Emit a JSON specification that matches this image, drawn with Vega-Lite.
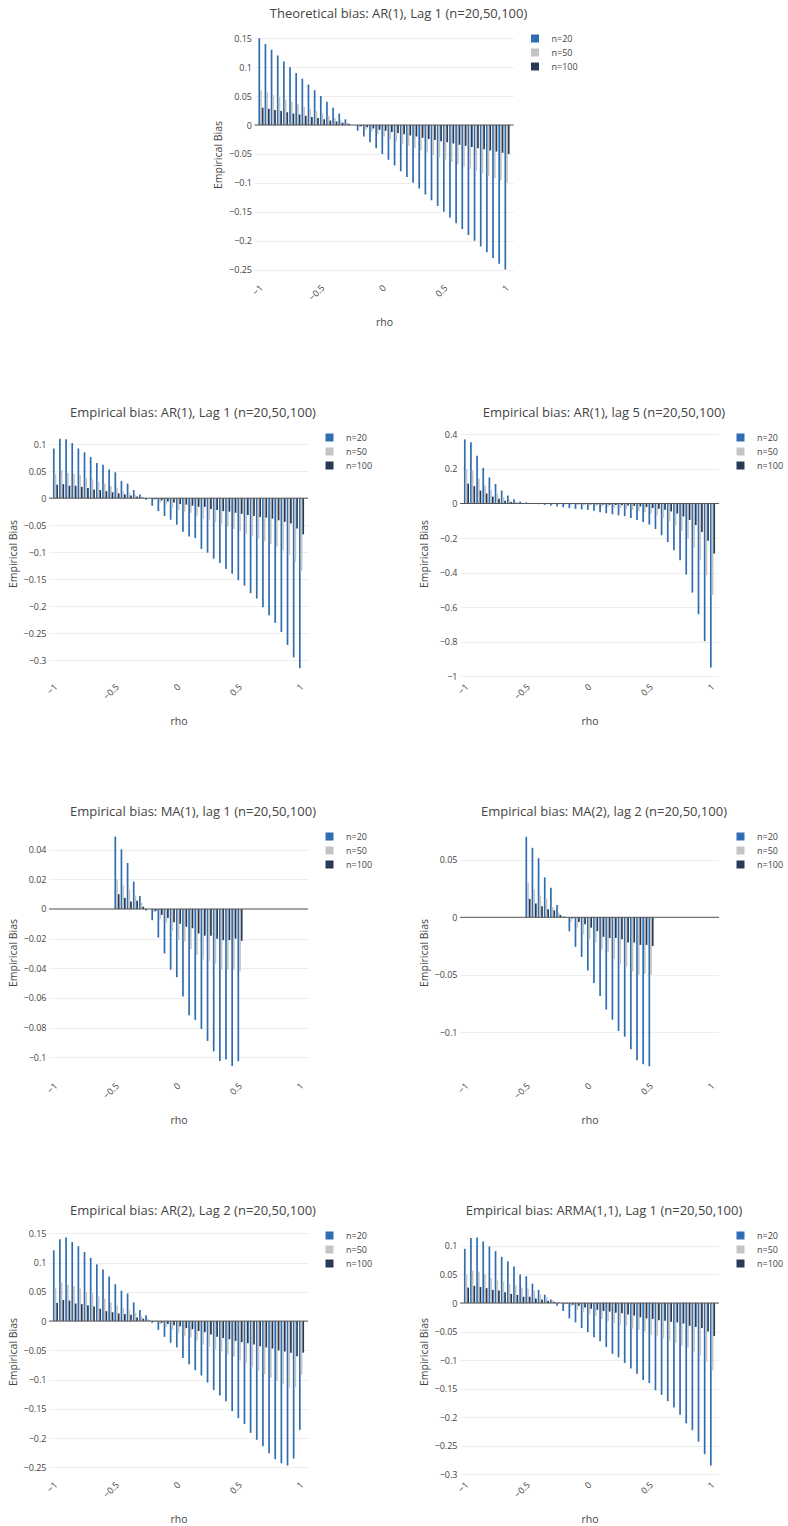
{
"$schema": "https://vega.github.io/schema/vega-lite/v6.json",
"padding": {"left": 8, "top": 8, "right": 0, "bottom": 5},
"background": "white",
"config": {
  "font": "Open Sans",
  "numberFormat": "~g",
  "view": {"stroke": null},
  "title": {"fontSize": 13, "fontWeight": "normal", "color": "#444", "font": "Open Sans", "anchor": "middle", "frame": "bounds", "offset": 8},
  "axis": {"labelFont": "Open Sans", "labelFontSize": 9, "labelColor": "#444", "titleFont": "Open Sans", "titleFontSize": 10.5, "titleFontWeight": "normal", "titleColor": "#444", "ticks": false, "domain": false, "gridColor": "#eee", "gridWidth": 1, "labelOverlap": false, "labelFlush": false},
  "axisX": {"grid": false, "labelAngle": -45, "labelAlign": "right", "labelBaseline": "middle", "labelPadding": 6, "minExtent": 25, "maxExtent": 25, "titlePadding": 12, "tickCount": 20},
  "axisY": {"labelPadding": 3, "minExtent": 27, "maxExtent": 27, "titlePadding": 4, "tickCount": 20},
  "legend": {"orient": "right", "offset": 12, "symbolType": "square", "symbolSize": 64, "symbolStrokeWidth": 0, "labelFont": "Open Sans", "labelFontSize": 9, "labelColor": "#444", "labelOffset": 12, "rowPadding": 4, "padding": 5}
},
"datasets": {
"p1": [
{"rho":-1,"n":"n=20","bias":0.15},{"rho":-0.95,"n":"n=20","bias":0.14},{"rho":-0.9,"n":"n=20","bias":0.13},{"rho":-0.85,"n":"n=20","bias":0.12},{"rho":-0.8,"n":"n=20","bias":0.11},{"rho":-0.75,"n":"n=20","bias":0.1},{"rho":-0.7,"n":"n=20","bias":0.09},{"rho":-0.65,"n":"n=20","bias":0.08},{"rho":-0.6,"n":"n=20","bias":0.07},{"rho":-0.55,"n":"n=20","bias":0.06},{"rho":-0.5,"n":"n=20","bias":0.05},{"rho":-0.45,"n":"n=20","bias":0.04},{"rho":-0.4,"n":"n=20","bias":0.03},{"rho":-0.35,"n":"n=20","bias":0.02},{"rho":-0.3,"n":"n=20","bias":0.01},{"rho":-0.25,"n":"n=20","bias":0},{"rho":-0.2,"n":"n=20","bias":-0.01},{"rho":-0.15,"n":"n=20","bias":-0.02},{"rho":-0.1,"n":"n=20","bias":-0.03},{"rho":-0.05,"n":"n=20","bias":-0.04},{"rho":0,"n":"n=20","bias":-0.05},{"rho":0.05,"n":"n=20","bias":-0.06},{"rho":0.1,"n":"n=20","bias":-0.07},{"rho":0.15,"n":"n=20","bias":-0.08},{"rho":0.2,"n":"n=20","bias":-0.09},{"rho":0.25,"n":"n=20","bias":-0.1},{"rho":0.3,"n":"n=20","bias":-0.11},{"rho":0.35,"n":"n=20","bias":-0.12},{"rho":0.4,"n":"n=20","bias":-0.13},{"rho":0.45,"n":"n=20","bias":-0.14},{"rho":0.5,"n":"n=20","bias":-0.15},{"rho":0.55,"n":"n=20","bias":-0.16},{"rho":0.6,"n":"n=20","bias":-0.17},{"rho":0.65,"n":"n=20","bias":-0.18},{"rho":0.7,"n":"n=20","bias":-0.19},{"rho":0.75,"n":"n=20","bias":-0.2},{"rho":0.8,"n":"n=20","bias":-0.21},{"rho":0.85,"n":"n=20","bias":-0.22},{"rho":0.9,"n":"n=20","bias":-0.23},{"rho":0.95,"n":"n=20","bias":-0.24},{"rho":1,"n":"n=20","bias":-0.25},
{"rho":-1,"n":"n=50","bias":0.06},{"rho":-0.95,"n":"n=50","bias":0.056},{"rho":-0.9,"n":"n=50","bias":0.052},{"rho":-0.85,"n":"n=50","bias":0.048},{"rho":-0.8,"n":"n=50","bias":0.044},{"rho":-0.75,"n":"n=50","bias":0.04},{"rho":-0.7,"n":"n=50","bias":0.036},{"rho":-0.65,"n":"n=50","bias":0.032},{"rho":-0.6,"n":"n=50","bias":0.028},{"rho":-0.55,"n":"n=50","bias":0.024},{"rho":-0.5,"n":"n=50","bias":0.02},{"rho":-0.45,"n":"n=50","bias":0.016},{"rho":-0.4,"n":"n=50","bias":0.012},{"rho":-0.35,"n":"n=50","bias":0.008},{"rho":-0.3,"n":"n=50","bias":0.004},{"rho":-0.25,"n":"n=50","bias":0},{"rho":-0.2,"n":"n=50","bias":-0.004},{"rho":-0.15,"n":"n=50","bias":-0.008},{"rho":-0.1,"n":"n=50","bias":-0.012},{"rho":-0.05,"n":"n=50","bias":-0.016},{"rho":0,"n":"n=50","bias":-0.02},{"rho":0.05,"n":"n=50","bias":-0.024},{"rho":0.1,"n":"n=50","bias":-0.028},{"rho":0.15,"n":"n=50","bias":-0.032},{"rho":0.2,"n":"n=50","bias":-0.036},{"rho":0.25,"n":"n=50","bias":-0.04},{"rho":0.3,"n":"n=50","bias":-0.044},{"rho":0.35,"n":"n=50","bias":-0.048},{"rho":0.4,"n":"n=50","bias":-0.052},{"rho":0.45,"n":"n=50","bias":-0.056},{"rho":0.5,"n":"n=50","bias":-0.06},{"rho":0.55,"n":"n=50","bias":-0.064},{"rho":0.6,"n":"n=50","bias":-0.068},{"rho":0.65,"n":"n=50","bias":-0.072},{"rho":0.7,"n":"n=50","bias":-0.076},{"rho":0.75,"n":"n=50","bias":-0.08},{"rho":0.8,"n":"n=50","bias":-0.084},{"rho":0.85,"n":"n=50","bias":-0.088},{"rho":0.9,"n":"n=50","bias":-0.092},{"rho":0.95,"n":"n=50","bias":-0.096},{"rho":1,"n":"n=50","bias":-0.1},
{"rho":-1,"n":"n=100","bias":0.03},{"rho":-0.95,"n":"n=100","bias":0.028},{"rho":-0.9,"n":"n=100","bias":0.026},{"rho":-0.85,"n":"n=100","bias":0.024},{"rho":-0.8,"n":"n=100","bias":0.022},{"rho":-0.75,"n":"n=100","bias":0.02},{"rho":-0.7,"n":"n=100","bias":0.018},{"rho":-0.65,"n":"n=100","bias":0.016},{"rho":-0.6,"n":"n=100","bias":0.014},{"rho":-0.55,"n":"n=100","bias":0.012},{"rho":-0.5,"n":"n=100","bias":0.01},{"rho":-0.45,"n":"n=100","bias":0.008},{"rho":-0.4,"n":"n=100","bias":0.006},{"rho":-0.35,"n":"n=100","bias":0.004},{"rho":-0.3,"n":"n=100","bias":0.002},{"rho":-0.25,"n":"n=100","bias":0},{"rho":-0.2,"n":"n=100","bias":-0.002},{"rho":-0.15,"n":"n=100","bias":-0.004},{"rho":-0.1,"n":"n=100","bias":-0.006},{"rho":-0.05,"n":"n=100","bias":-0.008},{"rho":0,"n":"n=100","bias":-0.01},{"rho":0.05,"n":"n=100","bias":-0.012},{"rho":0.1,"n":"n=100","bias":-0.014},{"rho":0.15,"n":"n=100","bias":-0.016},{"rho":0.2,"n":"n=100","bias":-0.018},{"rho":0.25,"n":"n=100","bias":-0.02},{"rho":0.3,"n":"n=100","bias":-0.022},{"rho":0.35,"n":"n=100","bias":-0.024},{"rho":0.4,"n":"n=100","bias":-0.026},{"rho":0.45,"n":"n=100","bias":-0.028},{"rho":0.5,"n":"n=100","bias":-0.03},{"rho":0.55,"n":"n=100","bias":-0.032},{"rho":0.6,"n":"n=100","bias":-0.034},{"rho":0.65,"n":"n=100","bias":-0.036},{"rho":0.7,"n":"n=100","bias":-0.038},{"rho":0.75,"n":"n=100","bias":-0.04},{"rho":0.8,"n":"n=100","bias":-0.042},{"rho":0.85,"n":"n=100","bias":-0.044},{"rho":0.9,"n":"n=100","bias":-0.046},{"rho":0.95,"n":"n=100","bias":-0.048},{"rho":1,"n":"n=100","bias":-0.05}
],
"p2": [
{"rho":-1,"n":"n=20","bias":0.092},{"rho":-0.95,"n":"n=20","bias":0.11},{"rho":-0.9,"n":"n=20","bias":0.109},{"rho":-0.85,"n":"n=20","bias":0.102},{"rho":-0.8,"n":"n=20","bias":0.092},{"rho":-0.75,"n":"n=20","bias":0.085},{"rho":-0.7,"n":"n=20","bias":0.076},{"rho":-0.65,"n":"n=20","bias":0.065},{"rho":-0.6,"n":"n=20","bias":0.062},{"rho":-0.55,"n":"n=20","bias":0.053},{"rho":-0.5,"n":"n=20","bias":0.048},{"rho":-0.45,"n":"n=20","bias":0.032},{"rho":-0.4,"n":"n=20","bias":0.027},{"rho":-0.35,"n":"n=20","bias":0.015},{"rho":-0.3,"n":"n=20","bias":0.007},{"rho":-0.25,"n":"n=20","bias":-0.003},{"rho":-0.2,"n":"n=20","bias":-0.014},{"rho":-0.15,"n":"n=20","bias":-0.024},{"rho":-0.1,"n":"n=20","bias":-0.033},{"rho":-0.05,"n":"n=20","bias":-0.04},{"rho":0,"n":"n=20","bias":-0.049},{"rho":0.05,"n":"n=20","bias":-0.062},{"rho":0.1,"n":"n=20","bias":-0.071},{"rho":0.15,"n":"n=20","bias":-0.074},{"rho":0.2,"n":"n=20","bias":-0.094},{"rho":0.25,"n":"n=20","bias":-0.101},{"rho":0.3,"n":"n=20","bias":-0.112},{"rho":0.35,"n":"n=20","bias":-0.12},{"rho":0.4,"n":"n=20","bias":-0.131},{"rho":0.45,"n":"n=20","bias":-0.14},{"rho":0.5,"n":"n=20","bias":-0.152},{"rho":0.55,"n":"n=20","bias":-0.162},{"rho":0.6,"n":"n=20","bias":-0.176},{"rho":0.65,"n":"n=20","bias":-0.186},{"rho":0.7,"n":"n=20","bias":-0.202},{"rho":0.75,"n":"n=20","bias":-0.217},{"rho":0.8,"n":"n=20","bias":-0.231},{"rho":0.85,"n":"n=20","bias":-0.248},{"rho":0.9,"n":"n=20","bias":-0.272},{"rho":0.95,"n":"n=20","bias":-0.295},{"rho":1,"n":"n=20","bias":-0.315},
{"rho":-1,"n":"n=50","bias":0.045},{"rho":-0.95,"n":"n=50","bias":0.052},{"rho":-0.9,"n":"n=50","bias":0.047},{"rho":-0.85,"n":"n=50","bias":0.045},{"rho":-0.8,"n":"n=50","bias":0.043},{"rho":-0.75,"n":"n=50","bias":0.037},{"rho":-0.7,"n":"n=50","bias":0.035},{"rho":-0.65,"n":"n=50","bias":0.03},{"rho":-0.6,"n":"n=50","bias":0.027},{"rho":-0.55,"n":"n=50","bias":0.022},{"rho":-0.5,"n":"n=50","bias":0.02},{"rho":-0.45,"n":"n=50","bias":0.013},{"rho":-0.4,"n":"n=50","bias":0.01},{"rho":-0.35,"n":"n=50","bias":0.006},{"rho":-0.3,"n":"n=50","bias":0.003},{"rho":-0.25,"n":"n=50","bias":0},{"rho":-0.2,"n":"n=50","bias":-0.004},{"rho":-0.15,"n":"n=50","bias":-0.008},{"rho":-0.1,"n":"n=50","bias":-0.012},{"rho":-0.05,"n":"n=50","bias":-0.018},{"rho":0,"n":"n=50","bias":-0.022},{"rho":0.05,"n":"n=50","bias":-0.025},{"rho":0.1,"n":"n=50","bias":-0.027},{"rho":0.15,"n":"n=50","bias":-0.032},{"rho":0.2,"n":"n=50","bias":-0.038},{"rho":0.25,"n":"n=50","bias":-0.041},{"rho":0.3,"n":"n=50","bias":-0.045},{"rho":0.35,"n":"n=50","bias":-0.048},{"rho":0.4,"n":"n=50","bias":-0.052},{"rho":0.45,"n":"n=50","bias":-0.057},{"rho":0.5,"n":"n=50","bias":-0.061},{"rho":0.55,"n":"n=50","bias":-0.066},{"rho":0.6,"n":"n=50","bias":-0.07},{"rho":0.65,"n":"n=50","bias":-0.075},{"rho":0.7,"n":"n=50","bias":-0.08},{"rho":0.75,"n":"n=50","bias":-0.085},{"rho":0.8,"n":"n=50","bias":-0.09},{"rho":0.85,"n":"n=50","bias":-0.097},{"rho":0.9,"n":"n=50","bias":-0.105},{"rho":0.95,"n":"n=50","bias":-0.118},{"rho":1,"n":"n=50","bias":-0.135},
{"rho":-1,"n":"n=100","bias":0.025},{"rho":-0.95,"n":"n=100","bias":0.026},{"rho":-0.9,"n":"n=100","bias":0.023},{"rho":-0.85,"n":"n=100","bias":0.023},{"rho":-0.8,"n":"n=100","bias":0.021},{"rho":-0.75,"n":"n=100","bias":0.019},{"rho":-0.7,"n":"n=100","bias":0.016},{"rho":-0.65,"n":"n=100","bias":0.015},{"rho":-0.6,"n":"n=100","bias":0.013},{"rho":-0.55,"n":"n=100","bias":0.011},{"rho":-0.5,"n":"n=100","bias":0.009},{"rho":-0.45,"n":"n=100","bias":0.007},{"rho":-0.4,"n":"n=100","bias":0.005},{"rho":-0.35,"n":"n=100","bias":0.003},{"rho":-0.3,"n":"n=100","bias":0.001},{"rho":-0.25,"n":"n=100","bias":0},{"rho":-0.2,"n":"n=100","bias":-0.002},{"rho":-0.15,"n":"n=100","bias":-0.004},{"rho":-0.1,"n":"n=100","bias":-0.006},{"rho":-0.05,"n":"n=100","bias":-0.008},{"rho":0,"n":"n=100","bias":-0.011},{"rho":0.05,"n":"n=100","bias":-0.012},{"rho":0.1,"n":"n=100","bias":-0.014},{"rho":0.15,"n":"n=100","bias":-0.016},{"rho":0.2,"n":"n=100","bias":-0.016},{"rho":0.25,"n":"n=100","bias":-0.02},{"rho":0.3,"n":"n=100","bias":-0.022},{"rho":0.35,"n":"n=100","bias":-0.024},{"rho":0.4,"n":"n=100","bias":-0.025},{"rho":0.45,"n":"n=100","bias":-0.027},{"rho":0.5,"n":"n=100","bias":-0.029},{"rho":0.55,"n":"n=100","bias":-0.031},{"rho":0.6,"n":"n=100","bias":-0.033},{"rho":0.65,"n":"n=100","bias":-0.035},{"rho":0.7,"n":"n=100","bias":-0.036},{"rho":0.75,"n":"n=100","bias":-0.038},{"rho":0.8,"n":"n=100","bias":-0.041},{"rho":0.85,"n":"n=100","bias":-0.044},{"rho":0.9,"n":"n=100","bias":-0.047},{"rho":0.95,"n":"n=100","bias":-0.056},{"rho":1,"n":"n=100","bias":-0.067}
],
"p3": [
{"rho":-1,"n":"n=20","bias":0.371},{"rho":-0.95,"n":"n=20","bias":0.354},{"rho":-0.9,"n":"n=20","bias":0.277},{"rho":-0.85,"n":"n=20","bias":0.206},{"rho":-0.8,"n":"n=20","bias":0.151},{"rho":-0.75,"n":"n=20","bias":0.113},{"rho":-0.7,"n":"n=20","bias":0.075},{"rho":-0.65,"n":"n=20","bias":0.046},{"rho":-0.6,"n":"n=20","bias":0.025},{"rho":-0.55,"n":"n=20","bias":0.011},{"rho":-0.5,"n":"n=20","bias":0.006},{"rho":-0.45,"n":"n=20","bias":0.002},{"rho":-0.4,"n":"n=20","bias":-0.004},{"rho":-0.35,"n":"n=20","bias":-0.008},{"rho":-0.3,"n":"n=20","bias":-0.012},{"rho":-0.25,"n":"n=20","bias":-0.017},{"rho":-0.2,"n":"n=20","bias":-0.022},{"rho":-0.15,"n":"n=20","bias":-0.027},{"rho":-0.1,"n":"n=20","bias":-0.031},{"rho":-0.05,"n":"n=20","bias":-0.034},{"rho":0,"n":"n=20","bias":-0.037},{"rho":0.05,"n":"n=20","bias":-0.042},{"rho":0.1,"n":"n=20","bias":-0.05},{"rho":0.15,"n":"n=20","bias":-0.056},{"rho":0.2,"n":"n=20","bias":-0.062},{"rho":0.25,"n":"n=20","bias":-0.068},{"rho":0.3,"n":"n=20","bias":-0.073},{"rho":0.35,"n":"n=20","bias":-0.084},{"rho":0.4,"n":"n=20","bias":-0.095},{"rho":0.45,"n":"n=20","bias":-0.108},{"rho":0.5,"n":"n=20","bias":-0.122},{"rho":0.55,"n":"n=20","bias":-0.148},{"rho":0.6,"n":"n=20","bias":-0.184},{"rho":0.65,"n":"n=20","bias":-0.223},{"rho":0.7,"n":"n=20","bias":-0.271},{"rho":0.75,"n":"n=20","bias":-0.329},{"rho":0.8,"n":"n=20","bias":-0.411},{"rho":0.85,"n":"n=20","bias":-0.516},{"rho":0.9,"n":"n=20","bias":-0.641},{"rho":0.95,"n":"n=20","bias":-0.797},{"rho":1,"n":"n=20","bias":-0.95},
{"rho":-1,"n":"n=50","bias":0.2},{"rho":-0.95,"n":"n=50","bias":0.19},{"rho":-0.9,"n":"n=50","bias":0.145},{"rho":-0.85,"n":"n=50","bias":0.105},{"rho":-0.8,"n":"n=50","bias":0.078},{"rho":-0.75,"n":"n=50","bias":0.055},{"rho":-0.7,"n":"n=50","bias":0.035},{"rho":-0.65,"n":"n=50","bias":0.02},{"rho":-0.6,"n":"n=50","bias":0.01},{"rho":-0.55,"n":"n=50","bias":0.005},{"rho":-0.5,"n":"n=50","bias":0.002},{"rho":-0.45,"n":"n=50","bias":0},{"rho":-0.4,"n":"n=50","bias":-0.002},{"rho":-0.35,"n":"n=50","bias":-0.003},{"rho":-0.3,"n":"n=50","bias":-0.005},{"rho":-0.25,"n":"n=50","bias":-0.006},{"rho":-0.2,"n":"n=50","bias":-0.008},{"rho":-0.15,"n":"n=50","bias":-0.009},{"rho":-0.1,"n":"n=50","bias":-0.011},{"rho":-0.05,"n":"n=50","bias":-0.012},{"rho":0,"n":"n=50","bias":-0.014},{"rho":0.05,"n":"n=50","bias":-0.016},{"rho":0.1,"n":"n=50","bias":-0.018},{"rho":0.15,"n":"n=50","bias":-0.021},{"rho":0.2,"n":"n=50","bias":-0.024},{"rho":0.25,"n":"n=50","bias":-0.027},{"rho":0.3,"n":"n=50","bias":-0.031},{"rho":0.35,"n":"n=50","bias":-0.036},{"rho":0.4,"n":"n=50","bias":-0.042},{"rho":0.45,"n":"n=50","bias":-0.05},{"rho":0.5,"n":"n=50","bias":-0.058},{"rho":0.55,"n":"n=50","bias":-0.068},{"rho":0.6,"n":"n=50","bias":-0.083},{"rho":0.65,"n":"n=50","bias":-0.102},{"rho":0.7,"n":"n=50","bias":-0.128},{"rho":0.75,"n":"n=50","bias":-0.16},{"rho":0.8,"n":"n=50","bias":-0.2},{"rho":0.85,"n":"n=50","bias":-0.255},{"rho":0.9,"n":"n=50","bias":-0.325},{"rho":0.95,"n":"n=50","bias":-0.415},{"rho":1,"n":"n=50","bias":-0.53},
{"rho":-1,"n":"n=100","bias":0.115},{"rho":-0.95,"n":"n=100","bias":0.1},{"rho":-0.9,"n":"n=100","bias":0.075},{"rho":-0.85,"n":"n=100","bias":0.058},{"rho":-0.8,"n":"n=100","bias":0.04},{"rho":-0.75,"n":"n=100","bias":0.028},{"rho":-0.7,"n":"n=100","bias":0.016},{"rho":-0.65,"n":"n=100","bias":0.009},{"rho":-0.6,"n":"n=100","bias":0.004},{"rho":-0.55,"n":"n=100","bias":0.002},{"rho":-0.5,"n":"n=100","bias":0.001},{"rho":-0.45,"n":"n=100","bias":0},{"rho":-0.4,"n":"n=100","bias":-0.001},{"rho":-0.35,"n":"n=100","bias":-0.001},{"rho":-0.3,"n":"n=100","bias":-0.002},{"rho":-0.25,"n":"n=100","bias":-0.002},{"rho":-0.2,"n":"n=100","bias":-0.003},{"rho":-0.15,"n":"n=100","bias":-0.003},{"rho":-0.1,"n":"n=100","bias":-0.004},{"rho":-0.05,"n":"n=100","bias":-0.004},{"rho":0,"n":"n=100","bias":-0.005},{"rho":0.05,"n":"n=100","bias":-0.006},{"rho":0.1,"n":"n=100","bias":-0.007},{"rho":0.15,"n":"n=100","bias":-0.008},{"rho":0.2,"n":"n=100","bias":-0.009},{"rho":0.25,"n":"n=100","bias":-0.01},{"rho":0.3,"n":"n=100","bias":-0.012},{"rho":0.35,"n":"n=100","bias":-0.014},{"rho":0.4,"n":"n=100","bias":-0.017},{"rho":0.45,"n":"n=100","bias":-0.021},{"rho":0.5,"n":"n=100","bias":-0.026},{"rho":0.55,"n":"n=100","bias":-0.03},{"rho":0.6,"n":"n=100","bias":-0.036},{"rho":0.65,"n":"n=100","bias":-0.046},{"rho":0.7,"n":"n=100","bias":-0.058},{"rho":0.75,"n":"n=100","bias":-0.075},{"rho":0.8,"n":"n=100","bias":-0.095},{"rho":0.85,"n":"n=100","bias":-0.125},{"rho":0.9,"n":"n=100","bias":-0.165},{"rho":0.95,"n":"n=100","bias":-0.216},{"rho":1,"n":"n=100","bias":-0.29}
],
"p4": [
{"rho":-0.5,"n":"n=20","bias":0.0488},{"rho":-0.45,"n":"n=20","bias":0.0402},{"rho":-0.4,"n":"n=20","bias":0.031},{"rho":-0.35,"n":"n=20","bias":0.0184},{"rho":-0.3,"n":"n=20","bias":0.0088},{"rho":-0.25,"n":"n=20","bias":-0.001},{"rho":-0.2,"n":"n=20","bias":-0.0076},{"rho":-0.15,"n":"n=20","bias":-0.0193},{"rho":-0.1,"n":"n=20","bias":-0.03},{"rho":-0.05,"n":"n=20","bias":-0.041},{"rho":0,"n":"n=20","bias":-0.046},{"rho":0.05,"n":"n=20","bias":-0.059},{"rho":0.1,"n":"n=20","bias":-0.0717},{"rho":0.15,"n":"n=20","bias":-0.0748},{"rho":0.2,"n":"n=20","bias":-0.081},{"rho":0.25,"n":"n=20","bias":-0.089},{"rho":0.3,"n":"n=20","bias":-0.096},{"rho":0.35,"n":"n=20","bias":-0.1025},{"rho":0.4,"n":"n=20","bias":-0.1016},{"rho":0.45,"n":"n=20","bias":-0.106},{"rho":0.5,"n":"n=20","bias":-0.1027},
{"rho":-0.5,"n":"n=50","bias":0.02},{"rho":-0.45,"n":"n=50","bias":0.016},{"rho":-0.4,"n":"n=50","bias":0.013},{"rho":-0.35,"n":"n=50","bias":0.009},{"rho":-0.3,"n":"n=50","bias":0.004},{"rho":-0.25,"n":"n=50","bias":0},{"rho":-0.2,"n":"n=50","bias":-0.002},{"rho":-0.15,"n":"n=50","bias":-0.007},{"rho":-0.1,"n":"n=50","bias":-0.0095},{"rho":-0.05,"n":"n=50","bias":-0.015},{"rho":0,"n":"n=50","bias":-0.021},{"rho":0.05,"n":"n=50","bias":-0.022},{"rho":0.1,"n":"n=50","bias":-0.027},{"rho":0.15,"n":"n=50","bias":-0.031},{"rho":0.2,"n":"n=50","bias":-0.034},{"rho":0.25,"n":"n=50","bias":-0.035},{"rho":0.3,"n":"n=50","bias":-0.037},{"rho":0.35,"n":"n=50","bias":-0.041},{"rho":0.4,"n":"n=50","bias":-0.041},{"rho":0.45,"n":"n=50","bias":-0.041},{"rho":0.5,"n":"n=50","bias":-0.042},
{"rho":-0.5,"n":"n=100","bias":0.01},{"rho":-0.45,"n":"n=100","bias":0.0075},{"rho":-0.4,"n":"n=100","bias":0.005},{"rho":-0.35,"n":"n=100","bias":0.0055},{"rho":-0.3,"n":"n=100","bias":0.0015},{"rho":-0.25,"n":"n=100","bias":0},{"rho":-0.2,"n":"n=100","bias":-0.0015},{"rho":-0.15,"n":"n=100","bias":-0.004},{"rho":-0.1,"n":"n=100","bias":-0.006},{"rho":-0.05,"n":"n=100","bias":-0.009},{"rho":0,"n":"n=100","bias":-0.01},{"rho":0.05,"n":"n=100","bias":-0.012},{"rho":0.1,"n":"n=100","bias":-0.013},{"rho":0.15,"n":"n=100","bias":-0.0165},{"rho":0.2,"n":"n=100","bias":-0.018},{"rho":0.25,"n":"n=100","bias":-0.018},{"rho":0.3,"n":"n=100","bias":-0.02},{"rho":0.35,"n":"n=100","bias":-0.021},{"rho":0.4,"n":"n=100","bias":-0.021},{"rho":0.45,"n":"n=100","bias":-0.02},{"rho":0.5,"n":"n=100","bias":-0.0215}
],
"p5": [
{"rho":-0.5,"n":"n=20","bias":0.07},{"rho":-0.45,"n":"n=20","bias":0.0604},{"rho":-0.4,"n":"n=20","bias":0.0514},{"rho":-0.35,"n":"n=20","bias":0.0347},{"rho":-0.3,"n":"n=20","bias":0.0257},{"rho":-0.25,"n":"n=20","bias":0.0107},{"rho":-0.2,"n":"n=20","bias":0.0006},{"rho":-0.15,"n":"n=20","bias":-0.0121},{"rho":-0.1,"n":"n=20","bias":-0.0257},{"rho":-0.05,"n":"n=20","bias":-0.0344},{"rho":0,"n":"n=20","bias":-0.0462},{"rho":0.05,"n":"n=20","bias":-0.0572},{"rho":0.1,"n":"n=20","bias":-0.0685},{"rho":0.15,"n":"n=20","bias":-0.0803},{"rho":0.2,"n":"n=20","bias":-0.089},{"rho":0.25,"n":"n=20","bias":-0.0988},{"rho":0.3,"n":"n=20","bias":-0.1038},{"rho":0.35,"n":"n=20","bias":-0.1147},{"rho":0.4,"n":"n=20","bias":-0.1243},{"rho":0.45,"n":"n=20","bias":-0.1277},{"rho":0.5,"n":"n=20","bias":-0.1295},
{"rho":-0.5,"n":"n=50","bias":0.03},{"rho":-0.45,"n":"n=50","bias":0.024},{"rho":-0.4,"n":"n=50","bias":0.019},{"rho":-0.35,"n":"n=50","bias":0.016},{"rho":-0.3,"n":"n=50","bias":0.009},{"rho":-0.25,"n":"n=50","bias":0.004},{"rho":-0.2,"n":"n=50","bias":0.001},{"rho":-0.15,"n":"n=50","bias":-0.004},{"rho":-0.1,"n":"n=50","bias":-0.009},{"rho":-0.05,"n":"n=50","bias":-0.015},{"rho":0,"n":"n=50","bias":-0.019},{"rho":0.05,"n":"n=50","bias":-0.022},{"rho":0.1,"n":"n=50","bias":-0.028},{"rho":0.15,"n":"n=50","bias":-0.03},{"rho":0.2,"n":"n=50","bias":-0.036},{"rho":0.25,"n":"n=50","bias":-0.041},{"rho":0.3,"n":"n=50","bias":-0.043},{"rho":0.35,"n":"n=50","bias":-0.047},{"rho":0.4,"n":"n=50","bias":-0.05},{"rho":0.45,"n":"n=50","bias":-0.049},{"rho":0.5,"n":"n=50","bias":-0.05},
{"rho":-0.5,"n":"n=100","bias":0.016},{"rho":-0.45,"n":"n=100","bias":0.012},{"rho":-0.4,"n":"n=100","bias":0.0095},{"rho":-0.35,"n":"n=100","bias":0.007},{"rho":-0.3,"n":"n=100","bias":0.006},{"rho":-0.25,"n":"n=100","bias":0.002},{"rho":-0.2,"n":"n=100","bias":0},{"rho":-0.15,"n":"n=100","bias":-0.001},{"rho":-0.1,"n":"n=100","bias":-0.004},{"rho":-0.05,"n":"n=100","bias":-0.006},{"rho":0,"n":"n=100","bias":-0.009},{"rho":0.05,"n":"n=100","bias":-0.012},{"rho":0.1,"n":"n=100","bias":-0.017},{"rho":0.15,"n":"n=100","bias":-0.018},{"rho":0.2,"n":"n=100","bias":-0.018},{"rho":0.25,"n":"n=100","bias":-0.019},{"rho":0.3,"n":"n=100","bias":-0.022},{"rho":0.35,"n":"n=100","bias":-0.022},{"rho":0.4,"n":"n=100","bias":-0.024},{"rho":0.45,"n":"n=100","bias":-0.024},{"rho":0.5,"n":"n=100","bias":-0.025}
],
"p6": [
{"rho":-1,"n":"n=20","bias":0.121},{"rho":-0.95,"n":"n=20","bias":0.14},{"rho":-0.9,"n":"n=20","bias":0.143},{"rho":-0.85,"n":"n=20","bias":0.135},{"rho":-0.8,"n":"n=20","bias":0.128},{"rho":-0.75,"n":"n=20","bias":0.118},{"rho":-0.7,"n":"n=20","bias":0.108},{"rho":-0.65,"n":"n=20","bias":0.097},{"rho":-0.6,"n":"n=20","bias":0.088},{"rho":-0.55,"n":"n=20","bias":0.076},{"rho":-0.5,"n":"n=20","bias":0.063},{"rho":-0.45,"n":"n=20","bias":0.052},{"rho":-0.4,"n":"n=20","bias":0.047},{"rho":-0.35,"n":"n=20","bias":0.032},{"rho":-0.3,"n":"n=20","bias":0.019},{"rho":-0.25,"n":"n=20","bias":0.01},{"rho":-0.2,"n":"n=20","bias":-0.003},{"rho":-0.15,"n":"n=20","bias":-0.015},{"rho":-0.1,"n":"n=20","bias":-0.027},{"rho":-0.05,"n":"n=20","bias":-0.037},{"rho":0,"n":"n=20","bias":-0.045},{"rho":0.05,"n":"n=20","bias":-0.063},{"rho":0.1,"n":"n=20","bias":-0.074},{"rho":0.15,"n":"n=20","bias":-0.084},{"rho":0.2,"n":"n=20","bias":-0.093},{"rho":0.25,"n":"n=20","bias":-0.105},{"rho":0.3,"n":"n=20","bias":-0.118},{"rho":0.35,"n":"n=20","bias":-0.127},{"rho":0.4,"n":"n=20","bias":-0.137},{"rho":0.45,"n":"n=20","bias":-0.154},{"rho":0.5,"n":"n=20","bias":-0.166},{"rho":0.55,"n":"n=20","bias":-0.176},{"rho":0.6,"n":"n=20","bias":-0.191},{"rho":0.65,"n":"n=20","bias":-0.203},{"rho":0.7,"n":"n=20","bias":-0.214},{"rho":0.75,"n":"n=20","bias":-0.226},{"rho":0.8,"n":"n=20","bias":-0.236},{"rho":0.85,"n":"n=20","bias":-0.243},{"rho":0.9,"n":"n=20","bias":-0.247},{"rho":0.95,"n":"n=20","bias":-0.235},{"rho":1,"n":"n=20","bias":-0.186},
{"rho":-1,"n":"n=50","bias":0.057},{"rho":-0.95,"n":"n=50","bias":0.066},{"rho":-0.9,"n":"n=50","bias":0.062},{"rho":-0.85,"n":"n=50","bias":0.06},{"rho":-0.8,"n":"n=50","bias":0.056},{"rho":-0.75,"n":"n=50","bias":0.05},{"rho":-0.7,"n":"n=50","bias":0.048},{"rho":-0.65,"n":"n=50","bias":0.042},{"rho":-0.6,"n":"n=50","bias":0.038},{"rho":-0.55,"n":"n=50","bias":0.032},{"rho":-0.5,"n":"n=50","bias":0.027},{"rho":-0.45,"n":"n=50","bias":0.023},{"rho":-0.4,"n":"n=50","bias":0.019},{"rho":-0.35,"n":"n=50","bias":0.014},{"rho":-0.3,"n":"n=50","bias":0.008},{"rho":-0.25,"n":"n=50","bias":0.004},{"rho":-0.2,"n":"n=50","bias":-0.001},{"rho":-0.15,"n":"n=50","bias":-0.005},{"rho":-0.1,"n":"n=50","bias":-0.01},{"rho":-0.05,"n":"n=50","bias":-0.015},{"rho":0,"n":"n=50","bias":-0.02},{"rho":0.05,"n":"n=50","bias":-0.025},{"rho":0.1,"n":"n=50","bias":-0.028},{"rho":0.15,"n":"n=50","bias":-0.033},{"rho":0.2,"n":"n=50","bias":-0.04},{"rho":0.25,"n":"n=50","bias":-0.044},{"rho":0.3,"n":"n=50","bias":-0.049},{"rho":0.35,"n":"n=50","bias":-0.052},{"rho":0.4,"n":"n=50","bias":-0.057},{"rho":0.45,"n":"n=50","bias":-0.061},{"rho":0.5,"n":"n=50","bias":-0.067},{"rho":0.55,"n":"n=50","bias":-0.071},{"rho":0.6,"n":"n=50","bias":-0.079},{"rho":0.65,"n":"n=50","bias":-0.085},{"rho":0.7,"n":"n=50","bias":-0.091},{"rho":0.75,"n":"n=50","bias":-0.097},{"rho":0.8,"n":"n=50","bias":-0.102},{"rho":0.85,"n":"n=50","bias":-0.108},{"rho":0.9,"n":"n=50","bias":-0.114},{"rho":0.95,"n":"n=50","bias":-0.113},{"rho":1,"n":"n=50","bias":-0.092},
{"rho":-1,"n":"n=100","bias":0.031},{"rho":-0.95,"n":"n=100","bias":0.036},{"rho":-0.9,"n":"n=100","bias":0.035},{"rho":-0.85,"n":"n=100","bias":0.03},{"rho":-0.8,"n":"n=100","bias":0.029},{"rho":-0.75,"n":"n=100","bias":0.027},{"rho":-0.7,"n":"n=100","bias":0.025},{"rho":-0.65,"n":"n=100","bias":0.021},{"rho":-0.6,"n":"n=100","bias":0.017},{"rho":-0.55,"n":"n=100","bias":0.015},{"rho":-0.5,"n":"n=100","bias":0.013},{"rho":-0.45,"n":"n=100","bias":0.012},{"rho":-0.4,"n":"n=100","bias":0.011},{"rho":-0.35,"n":"n=100","bias":0.006},{"rho":-0.3,"n":"n=100","bias":0.004},{"rho":-0.25,"n":"n=100","bias":0.001},{"rho":-0.2,"n":"n=100","bias":-0.001},{"rho":-0.15,"n":"n=100","bias":-0.003},{"rho":-0.1,"n":"n=100","bias":-0.005},{"rho":-0.05,"n":"n=100","bias":-0.007},{"rho":0,"n":"n=100","bias":-0.009},{"rho":0.05,"n":"n=100","bias":-0.012},{"rho":0.1,"n":"n=100","bias":-0.014},{"rho":0.15,"n":"n=100","bias":-0.017},{"rho":0.2,"n":"n=100","bias":-0.019},{"rho":0.25,"n":"n=100","bias":-0.023},{"rho":0.3,"n":"n=100","bias":-0.027},{"rho":0.35,"n":"n=100","bias":-0.029},{"rho":0.4,"n":"n=100","bias":-0.031},{"rho":0.45,"n":"n=100","bias":-0.034},{"rho":0.5,"n":"n=100","bias":-0.036},{"rho":0.55,"n":"n=100","bias":-0.038},{"rho":0.6,"n":"n=100","bias":-0.04},{"rho":0.65,"n":"n=100","bias":-0.043},{"rho":0.7,"n":"n=100","bias":-0.045},{"rho":0.75,"n":"n=100","bias":-0.047},{"rho":0.8,"n":"n=100","bias":-0.05},{"rho":0.85,"n":"n=100","bias":-0.052},{"rho":0.9,"n":"n=100","bias":-0.054},{"rho":0.95,"n":"n=100","bias":-0.06},{"rho":1,"n":"n=100","bias":-0.054}
],
"p7": [
{"rho":-1,"n":"n=20","bias":0.095},{"rho":-0.95,"n":"n=20","bias":0.114},{"rho":-0.9,"n":"n=20","bias":0.115},{"rho":-0.85,"n":"n=20","bias":0.108},{"rho":-0.8,"n":"n=20","bias":0.099},{"rho":-0.75,"n":"n=20","bias":0.091},{"rho":-0.7,"n":"n=20","bias":0.081},{"rho":-0.65,"n":"n=20","bias":0.073},{"rho":-0.6,"n":"n=20","bias":0.064},{"rho":-0.55,"n":"n=20","bias":0.05},{"rho":-0.5,"n":"n=20","bias":0.047},{"rho":-0.45,"n":"n=20","bias":0.034},{"rho":-0.4,"n":"n=20","bias":0.023},{"rho":-0.35,"n":"n=20","bias":0.0145},{"rho":-0.3,"n":"n=20","bias":0.006},{"rho":-0.25,"n":"n=20","bias":-0.005},{"rho":-0.2,"n":"n=20","bias":-0.014},{"rho":-0.15,"n":"n=20","bias":-0.027},{"rho":-0.1,"n":"n=20","bias":-0.034},{"rho":-0.05,"n":"n=20","bias":-0.044},{"rho":0,"n":"n=20","bias":-0.051},{"rho":0.05,"n":"n=20","bias":-0.06},{"rho":0.1,"n":"n=20","bias":-0.067},{"rho":0.15,"n":"n=20","bias":-0.077},{"rho":0.2,"n":"n=20","bias":-0.089},{"rho":0.25,"n":"n=20","bias":-0.095},{"rho":0.3,"n":"n=20","bias":-0.105},{"rho":0.35,"n":"n=20","bias":-0.115},{"rho":0.4,"n":"n=20","bias":-0.124},{"rho":0.45,"n":"n=20","bias":-0.135},{"rho":0.5,"n":"n=20","bias":-0.14},{"rho":0.55,"n":"n=20","bias":-0.153},{"rho":0.6,"n":"n=20","bias":-0.161},{"rho":0.65,"n":"n=20","bias":-0.172},{"rho":0.7,"n":"n=20","bias":-0.183},{"rho":0.75,"n":"n=20","bias":-0.196},{"rho":0.8,"n":"n=20","bias":-0.211},{"rho":0.85,"n":"n=20","bias":-0.223},{"rho":0.9,"n":"n=20","bias":-0.243},{"rho":0.95,"n":"n=20","bias":-0.265},{"rho":1,"n":"n=20","bias":-0.285},
{"rho":-1,"n":"n=50","bias":0.05},{"rho":-0.95,"n":"n=50","bias":0.057},{"rho":-0.9,"n":"n=50","bias":0.055},{"rho":-0.85,"n":"n=50","bias":0.05},{"rho":-0.8,"n":"n=50","bias":0.044},{"rho":-0.75,"n":"n=50","bias":0.04},{"rho":-0.7,"n":"n=50","bias":0.038},{"rho":-0.65,"n":"n=50","bias":0.033},{"rho":-0.6,"n":"n=50","bias":0.031},{"rho":-0.55,"n":"n=50","bias":0.027},{"rho":-0.5,"n":"n=50","bias":0.025},{"rho":-0.45,"n":"n=50","bias":0.022},{"rho":-0.4,"n":"n=50","bias":0.015},{"rho":-0.35,"n":"n=50","bias":0.011},{"rho":-0.3,"n":"n=50","bias":0.005},{"rho":-0.25,"n":"n=50","bias":0.002},{"rho":-0.2,"n":"n=50","bias":-0.002},{"rho":-0.15,"n":"n=50","bias":-0.006},{"rho":-0.1,"n":"n=50","bias":-0.012},{"rho":-0.05,"n":"n=50","bias":-0.016},{"rho":0,"n":"n=50","bias":-0.02},{"rho":0.05,"n":"n=50","bias":-0.023},{"rho":0.1,"n":"n=50","bias":-0.028},{"rho":0.15,"n":"n=50","bias":-0.032},{"rho":0.2,"n":"n=50","bias":-0.035},{"rho":0.25,"n":"n=50","bias":-0.038},{"rho":0.3,"n":"n=50","bias":-0.04},{"rho":0.35,"n":"n=50","bias":-0.045},{"rho":0.4,"n":"n=50","bias":-0.047},{"rho":0.45,"n":"n=50","bias":-0.05},{"rho":0.5,"n":"n=50","bias":-0.055},{"rho":0.55,"n":"n=50","bias":-0.058},{"rho":0.6,"n":"n=50","bias":-0.062},{"rho":0.65,"n":"n=50","bias":-0.066},{"rho":0.7,"n":"n=50","bias":-0.07},{"rho":0.75,"n":"n=50","bias":-0.075},{"rho":0.8,"n":"n=50","bias":-0.078},{"rho":0.85,"n":"n=50","bias":-0.085},{"rho":0.9,"n":"n=50","bias":-0.092},{"rho":0.95,"n":"n=50","bias":-0.103},{"rho":1,"n":"n=50","bias":-0.118},
{"rho":-1,"n":"n=100","bias":0.027},{"rho":-0.95,"n":"n=100","bias":0.03},{"rho":-0.9,"n":"n=100","bias":0.028},{"rho":-0.85,"n":"n=100","bias":0.026},{"rho":-0.8,"n":"n=100","bias":0.023},{"rho":-0.75,"n":"n=100","bias":0.022},{"rho":-0.7,"n":"n=100","bias":0.019},{"rho":-0.65,"n":"n=100","bias":0.016},{"rho":-0.6,"n":"n=100","bias":0.014},{"rho":-0.55,"n":"n=100","bias":0.011},{"rho":-0.5,"n":"n=100","bias":0.011},{"rho":-0.45,"n":"n=100","bias":0.008},{"rho":-0.4,"n":"n=100","bias":0.006},{"rho":-0.35,"n":"n=100","bias":0.004},{"rho":-0.3,"n":"n=100","bias":0.002},{"rho":-0.25,"n":"n=100","bias":0},{"rho":-0.2,"n":"n=100","bias":-0.001},{"rho":-0.15,"n":"n=100","bias":-0.003},{"rho":-0.1,"n":"n=100","bias":-0.005},{"rho":-0.05,"n":"n=100","bias":-0.008},{"rho":0,"n":"n=100","bias":-0.01},{"rho":0.05,"n":"n=100","bias":-0.012},{"rho":0.1,"n":"n=100","bias":-0.014},{"rho":0.15,"n":"n=100","bias":-0.015},{"rho":0.2,"n":"n=100","bias":-0.017},{"rho":0.25,"n":"n=100","bias":-0.018},{"rho":0.3,"n":"n=100","bias":-0.02},{"rho":0.35,"n":"n=100","bias":-0.022},{"rho":0.4,"n":"n=100","bias":-0.025},{"rho":0.45,"n":"n=100","bias":-0.027},{"rho":0.5,"n":"n=100","bias":-0.028},{"rho":0.55,"n":"n=100","bias":-0.03},{"rho":0.6,"n":"n=100","bias":-0.031},{"rho":0.65,"n":"n=100","bias":-0.033},{"rho":0.7,"n":"n=100","bias":-0.034},{"rho":0.75,"n":"n=100","bias":-0.036},{"rho":0.8,"n":"n=100","bias":-0.04},{"rho":0.85,"n":"n=100","bias":-0.042},{"rho":0.9,"n":"n=100","bias":-0.044},{"rho":0.95,"n":"n=100","bias":-0.05},{"rho":1,"n":"n=100","bias":-0.058}
]
},
"vconcat": [
{
 "title": "Theoretical bias: AR(1), Lag 1 (n=20,50,100)",
 "width": 259, "height": 251,
 "data": {"name": "p1"},
 "layer": [
  {"encoding": {
    "x": {"field": "rho", "type": "quantitative", "title": "rho", "scale": {"domain": [-1.012, 1.012], "nice": false, "zero": false}, "axis": {"values": [-1, -0.5, 0, 0.5, 1], "tickCount": 20}},
    "y": {"field": "bias", "type": "quantitative", "title": "Empirical Bias", "scale": {"domain": [-0.268, 0.166], "nice": false}, "axis": {"values": [-0.25, -0.2, -0.15, -0.1, -0.05, 0, 0.05, 0.1, 0.15], "tickCount": 20}},
    "color": {"field": "n", "type": "nominal", "scale": {"domain": ["n=20", "n=50", "n=100"], "range": ["#2f6db3", "#c4c4c4", "#283a53"]}, "legend": {"title": null}}
   },
   "layer": [
    {"transform": [{"filter": "datum.n === 'n=20'"}], "mark": {"type": "bar", "width": 1.7, "xOffset": -1.7, "clip": true}},
    {"transform": [{"filter": "datum.n === 'n=50'"}], "mark": {"type": "bar", "width": 1.7, "xOffset": 0, "clip": true}},
    {"transform": [{"filter": "datum.n === 'n=100'"}], "mark": {"type": "bar", "width": 1.7, "xOffset": 1.7, "clip": true}}
   ]},
  {"data": {"values": [{}]}, "mark": {"type": "rule", "color": "#555", "strokeWidth": 1}, "encoding": {"y": {"datum": 0}}}
 ]
},
{
 "hconcat": [
  {
   "title": "Empirical bias: AR(1), Lag 1 (n=20,50,100)",
   "width": 259, "height": 251,
   "data": {"name": "p2"},
   "layer": [
    {"encoding": {
      "x": {"field": "rho", "type": "quantitative", "title": "rho", "scale": {"domain": [-1.012, 1.012], "nice": false, "zero": false}, "axis": {"values": [-1, -0.5, 0, 0.5, 1], "tickCount": 20}},
      "y": {"field": "bias", "type": "quantitative", "title": "Empirical Bias", "scale": {"domain": [-0.335, 0.13], "nice": false}, "axis": {"values": [-0.3, -0.25, -0.2, -0.15, -0.1, -0.05, 0, 0.05, 0.1], "tickCount": 20}},
      "color": {"field": "n", "type": "nominal", "scale": {"domain": ["n=20", "n=50", "n=100"], "range": ["#2f6db3", "#c4c4c4", "#283a53"]}, "legend": {"title": null}}
     },
     "layer": [
      {"transform": [{"filter": "datum.n === 'n=20'"}], "mark": {"type": "bar", "width": 1.7, "xOffset": -1.7, "clip": true}},
      {"transform": [{"filter": "datum.n === 'n=50'"}], "mark": {"type": "bar", "width": 1.7, "xOffset": 0, "clip": true}},
      {"transform": [{"filter": "datum.n === 'n=100'"}], "mark": {"type": "bar", "width": 1.7, "xOffset": 1.7, "clip": true}}
     ]},
    {"data": {"values": [{}]}, "mark": {"type": "rule", "color": "#555", "strokeWidth": 1}, "encoding": {"y": {"datum": 0}}}
   ]
  },
  {
   "title": "Empirical bias: AR(1), lag 5 (n=20,50,100)",
   "width": 259, "height": 251,
   "data": {"name": "p3"},
   "layer": [
    {"encoding": {
      "x": {"field": "rho", "type": "quantitative", "title": "rho", "scale": {"domain": [-1.012, 1.012], "nice": false, "zero": false}, "axis": {"values": [-1, -0.5, 0, 0.5, 1], "tickCount": 20}},
      "y": {"field": "bias", "type": "quantitative", "title": "Empirical Bias", "scale": {"domain": [-1.016, 0.437], "nice": false}, "axis": {"values": [-1, -0.8, -0.6, -0.4, -0.2, 0, 0.2, 0.4], "tickCount": 20}},
      "color": {"field": "n", "type": "nominal", "scale": {"domain": ["n=20", "n=50", "n=100"], "range": ["#2f6db3", "#c4c4c4", "#283a53"]}, "legend": {"title": null}}
     },
     "layer": [
      {"transform": [{"filter": "datum.n === 'n=20'"}], "mark": {"type": "bar", "width": 1.7, "xOffset": -1.7, "clip": true}},
      {"transform": [{"filter": "datum.n === 'n=50'"}], "mark": {"type": "bar", "width": 1.7, "xOffset": 0, "clip": true}},
      {"transform": [{"filter": "datum.n === 'n=100'"}], "mark": {"type": "bar", "width": 1.7, "xOffset": 1.7, "clip": true}}
     ]},
    {"data": {"values": [{}]}, "mark": {"type": "rule", "color": "#555", "strokeWidth": 1}, "encoding": {"y": {"datum": 0}}}
   ]
  }
 ],
 "spacing": 41,
 "resolve": {"scale": {"color": "independent"}, "legend": {"color": "independent"}}
},
{
 "hconcat": [
  {
   "title": "Empirical bias: MA(1), lag 1 (n=20,50,100)",
   "width": 259, "height": 251,
   "data": {"name": "p4"},
   "layer": [
    {"encoding": {
      "x": {"field": "rho", "type": "quantitative", "title": "rho", "scale": {"domain": [-1.012, 1.012], "nice": false, "zero": false}, "axis": {"values": [-1, -0.5, 0, 0.5, 1], "tickCount": 20}},
      "y": {"field": "bias", "type": "quantitative", "title": "Empirical Bias", "scale": {"domain": [-0.114, 0.0553], "nice": false}, "axis": {"values": [-0.1, -0.08, -0.06, -0.04, -0.02, 0, 0.02, 0.04], "tickCount": 20}},
      "color": {"field": "n", "type": "nominal", "scale": {"domain": ["n=20", "n=50", "n=100"], "range": ["#2f6db3", "#c4c4c4", "#283a53"]}, "legend": {"title": null}}
     },
     "layer": [
      {"transform": [{"filter": "datum.n === 'n=20'"}], "mark": {"type": "bar", "width": 1.7, "xOffset": -1.7, "clip": true}},
      {"transform": [{"filter": "datum.n === 'n=50'"}], "mark": {"type": "bar", "width": 1.7, "xOffset": 0, "clip": true}},
      {"transform": [{"filter": "datum.n === 'n=100'"}], "mark": {"type": "bar", "width": 1.7, "xOffset": 1.7, "clip": true}}
     ]},
    {"data": {"values": [{}]}, "mark": {"type": "rule", "color": "#555", "strokeWidth": 1}, "encoding": {"y": {"datum": 0}}}
   ]
  },
  {
   "title": "Empirical bias: MA(2), lag 2 (n=20,50,100)",
   "width": 259, "height": 251,
   "data": {"name": "p5"},
   "layer": [
    {"encoding": {
      "x": {"field": "rho", "type": "quantitative", "title": "rho", "scale": {"domain": [-1.012, 1.012], "nice": false, "zero": false}, "axis": {"values": [-1, -0.5, 0, 0.5, 1], "tickCount": 20}},
      "y": {"field": "bias", "type": "quantitative", "title": "Empirical Bias", "scale": {"domain": [-0.1397, 0.0785], "nice": false}, "axis": {"values": [-0.1, -0.05, 0, 0.05], "tickCount": 20}},
      "color": {"field": "n", "type": "nominal", "scale": {"domain": ["n=20", "n=50", "n=100"], "range": ["#2f6db3", "#c4c4c4", "#283a53"]}, "legend": {"title": null}}
     },
     "layer": [
      {"transform": [{"filter": "datum.n === 'n=20'"}], "mark": {"type": "bar", "width": 1.7, "xOffset": -1.7, "clip": true}},
      {"transform": [{"filter": "datum.n === 'n=50'"}], "mark": {"type": "bar", "width": 1.7, "xOffset": 0, "clip": true}},
      {"transform": [{"filter": "datum.n === 'n=100'"}], "mark": {"type": "bar", "width": 1.7, "xOffset": 1.7, "clip": true}}
     ]},
    {"data": {"values": [{}]}, "mark": {"type": "rule", "color": "#555", "strokeWidth": 1}, "encoding": {"y": {"datum": 0}}}
   ]
  }
 ],
 "spacing": 41,
 "resolve": {"scale": {"color": "independent"}, "legend": {"color": "independent"}}
},
{
 "hconcat": [
  {
   "title": "Empirical bias: AR(2), Lag 2 (n=20,50,100)",
   "width": 259, "height": 251,
   "data": {"name": "p6"},
   "layer": [
    {"encoding": {
      "x": {"field": "rho", "type": "quantitative", "title": "rho", "scale": {"domain": [-1.012, 1.012], "nice": false, "zero": false}, "axis": {"values": [-1, -0.5, 0, 0.5, 1], "tickCount": 20}},
      "y": {"field": "bias", "type": "quantitative", "title": "Empirical Bias", "scale": {"domain": [-0.2665, 0.1625], "nice": false}, "axis": {"values": [-0.25, -0.2, -0.15, -0.1, -0.05, 0, 0.05, 0.1, 0.15], "tickCount": 20}},
      "color": {"field": "n", "type": "nominal", "scale": {"domain": ["n=20", "n=50", "n=100"], "range": ["#2f6db3", "#c4c4c4", "#283a53"]}, "legend": {"title": null}}
     },
     "layer": [
      {"transform": [{"filter": "datum.n === 'n=20'"}], "mark": {"type": "bar", "width": 1.7, "xOffset": -1.7, "clip": true}},
      {"transform": [{"filter": "datum.n === 'n=50'"}], "mark": {"type": "bar", "width": 1.7, "xOffset": 0, "clip": true}},
      {"transform": [{"filter": "datum.n === 'n=100'"}], "mark": {"type": "bar", "width": 1.7, "xOffset": 1.7, "clip": true}}
     ]},
    {"data": {"values": [{}]}, "mark": {"type": "rule", "color": "#555", "strokeWidth": 1}, "encoding": {"y": {"datum": 0}}}
   ]
  },
  {
   "title": "Empirical bias: ARMA(1,1), Lag 1 (n=20,50,100)",
   "width": 259, "height": 251,
   "data": {"name": "p7"},
   "layer": [
    {"encoding": {
      "x": {"field": "rho", "type": "quantitative", "title": "rho", "scale": {"domain": [-1.012, 1.012], "nice": false, "zero": false}, "axis": {"values": [-1, -0.5, 0, 0.5, 1], "tickCount": 20}},
      "y": {"field": "bias", "type": "quantitative", "title": "Empirical Bias", "scale": {"domain": [-0.305, 0.135], "nice": false}, "axis": {"values": [-0.3, -0.25, -0.2, -0.15, -0.1, -0.05, 0, 0.05, 0.1], "tickCount": 20}},
      "color": {"field": "n", "type": "nominal", "scale": {"domain": ["n=20", "n=50", "n=100"], "range": ["#2f6db3", "#c4c4c4", "#283a53"]}, "legend": {"title": null}}
     },
     "layer": [
      {"transform": [{"filter": "datum.n === 'n=20'"}], "mark": {"type": "bar", "width": 1.7, "xOffset": -1.7, "clip": true}},
      {"transform": [{"filter": "datum.n === 'n=50'"}], "mark": {"type": "bar", "width": 1.7, "xOffset": 0, "clip": true}},
      {"transform": [{"filter": "datum.n === 'n=100'"}], "mark": {"type": "bar", "width": 1.7, "xOffset": 1.7, "clip": true}}
     ]},
    {"data": {"values": [{}]}, "mark": {"type": "rule", "color": "#555", "strokeWidth": 1}, "encoding": {"y": {"datum": 0}}}
   ]
  }
 ],
 "spacing": 41,
 "resolve": {"scale": {"color": "independent"}, "legend": {"color": "independent"}}
}
],
"spacing": 79,
"center": true,
"resolve": {"scale": {"color": "independent"}, "legend": {"color": "independent"}}
}
